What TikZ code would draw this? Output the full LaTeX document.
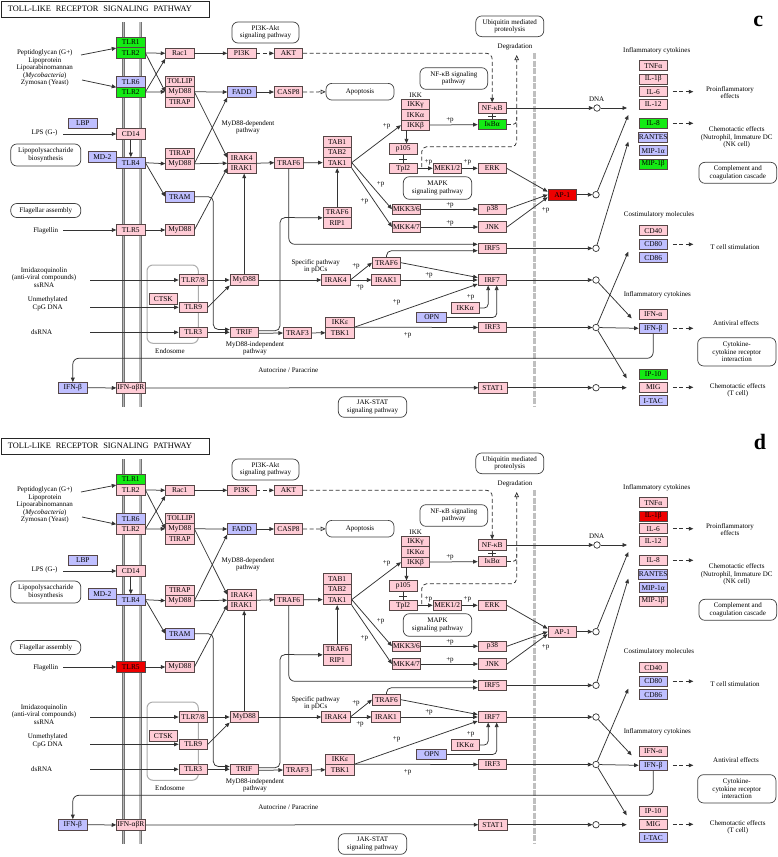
\documentclass[tikz,border=0pt]{standalone}
\usepackage{fontspec}
\usepackage{graphicx}
\setmainfont{Liberation Serif}
\usetikzlibrary{arrows.meta}
\definecolor{pinkc}{RGB}{255,204,214}
\definecolor{bluec}{RGB}{191,191,255}
\definecolor{greenc}{RGB}{20,235,20}
\definecolor{redc}{RGB}{238,0,0}
\definecolor{bordc}{RGB}{85,70,70}
\newcommand\kf{\fontsize{7}{7.5}\selectfont}
\newcommand\gbfont{\fontsize{7.4}{7.5}\selectfont}
\tikzset{
 gb/.style={draw=bordc, line width=0.7pt, minimum width=28.4pt, minimum height=10.4pt, inner sep=0pt, font=\gbfont, fill=pinkc},
 pk/.style={gb, fill=pinkc},
 bl/.style={gb, fill=bluec},
 gn/.style={gb, fill=greenc},
 ck/.style={minimum height=10pt},
 lbl/.style={font=\kf, align=center, inner sep=0pt},
 rbox/.style={draw=black!75, line width=0.7pt, rounded corners=6pt, font=\kf, align=center, inner sep=0pt},
 arr/.style={draw=black!80, line width=0.75pt, -{Triangle[length=4.5pt,width=3.8pt]}},
 dline/.style={draw=black!80, line width=0.75pt, dash pattern=on 4pt off 2.5pt},
 darr/.style={dline, -{Triangle[length=4.5pt,width=3.8pt]}},
 dopen/.style={dline, -{Triangle[open,length=5pt,width=4.5pt]}},
 plain/.style={draw=black!80, line width=0.75pt},
 circ/.style={circle, draw=black!80, line width=0.7pt, fill=white, minimum size=6.5pt, inner sep=0pt},
 memb/.style={draw=black!55, line width=0.6pt, double=gray!55, double distance=1.8pt},
 pletter/.style={font=\fontsize{22}{22}\selectfont\bfseries, inner sep=0pt, anchor=base},
}
\newcommand\tlrpanel{%
% background structures
\draw[memb] (123.5,22) -- (123.5,407);
\draw[memb] (140.3,22) -- (140.3,407);
\draw[gray!50, line width=3.5pt, dash pattern=on 6pt off 1.5pt] (534.3,53) -- (534.3,407);
\draw[gray!65, line width=1pt, rounded corners=6pt] (147,265) rectangle (198.3,343.3);
% title
\node[draw=black!85, line width=1pt, minimum width=208pt, minimum height=16pt, inner sep=0pt] (title) at (105,9)
  {\makebox[194pt][l]{\resizebox{184pt}{!}{TOLL-LIKE\hspace{0.35em} RECEPTOR\hspace{0.35em} SIGNALING\hspace{0.35em} PATHWAY}}};
% gene boxes
\node[gn] (tlr1) at (130.8,42.5) {TLR1};
\node[gb, fill=\cTLRa] (tlr2a) at (130.8,52.9) {TLR2};
\node[bl] (tlr6) at (130.8,81.7) {TLR6};
\node[gb, fill=\cTLRb] (tlr2b) at (130.8,92.1) {TLR2};
\node[pk] (rac1) at (179.8,53.3) {Rac1};
\node[pk] (pi3k) at (241.8,53.3) {PI3K};
\node[pk] (akt) at (288.5,53.3) {AKT};
\node[pk] (tollip) at (179.8,81.4) {TOLLIP};
\node[pk] (myd1) at (179.8,91.8) {MyD88};
\node[pk] (tirap1) at (179.8,102.2) {TIRAP};
\node[bl] (fadd) at (241.8,92) {FADD};
\node[pk] (casp8) at (288.5,92) {CASP8};
\node[bl] (lbp) at (82.8,123.3) {LBP};
\node[pk] (cd14) at (130.8,134) {CD14};
\node[bl] (md2) at (102.3,156.7) {MD-2};
\node[bl] (tlr4) at (130.8,162.7) {TLR4};
\node[pk] (tirap2) at (179.8,153.3) {TIRAP};
\node[pk] (myd2) at (179.8,163.7) {MyD88};
\node[pk] (irak4) at (241.8,157.7) {IRAK4};
\node[pk] (irak1) at (241.8,168.1) {IRAK1};
\node[bl] (tram) at (179.8,196.7) {TRAM};
\node[pk] (traf6a) at (288.8,162.7) {TRAF6};
\node[pk] (tab1) at (337.2,141.8) {TAB1};
\node[pk] (tab2) at (337.2,152.2) {TAB2};
\node[pk] (tak1) at (337.2,162.6) {TAK1};
\node[pk] (traf6b) at (337.2,212.3) {TRAF6};
\node[pk] (rip1) at (337.2,222.7) {RIP1};
\node[gb, fill=\cTLRf] (tlr5) at (130.8,230) {TLR5};
\node[pk] (myd3) at (179.8,230) {MyD88};
\node[pk] (ikkg) at (415.5,104.4) {IKKγ};
\node[pk] (ikka) at (415.5,114.8) {IKKα};
\node[pk] (ikkb) at (415.5,125.2) {IKKβ};
\node[pk] (nfkb) at (492.2,108) {NF-κB};
\node[gb, fill=\cIKB] (ikba) at (492.2,124.5) {IκBα};
\node[pk] (p105) at (403.2,149) {p105};
\node[pk] (tpl2) at (403.2,168.3) {Tpl2};
\node[pk] (mek) at (447.2,168.3) {MEK1/2};
\node[pk] (erk) at (492.2,168.3) {ERK};
\node[pk] (mkk36) at (406.5,209.2) {MKK3/6};
\node[pk] (mkk47) at (406.5,227) {MKK4/7};
\node[pk] (p38) at (492.5,209.2) {p38};
\node[pk] (jnk) at (492.5,227) {JNK};
\node[gb, fill=\cAP] (ap1) at (562.2,194.7) {AP-1};
\node[pk] (irf5) at (492.2,248.3) {IRF5};
\node[pk] (traf6c) at (386.5,262.7) {TRAF6};
\node[pk] (irak4b) at (335.8,280) {IRAK4};
\node[pk] (irak1b) at (386,280) {IRAK1};
\node[pk] (irf7) at (492.2,280) {IRF7};
\node[pk] (ikkab) at (465.2,308) {IKKα};
\node[bl, minimum width=30pt] (opn) at (431.7,317.5) {OPN};
\node[pk] (ikke) at (340,322.3) {IKKε};
\node[pk] (tbk1) at (340,332.7) {TBK1};
\node[pk] (traf3) at (297.5,333) {TRAF3};
\node[pk] (irf3) at (492.5,327.5) {IRF3};
\node[pk] (myd4) at (244.2,280) {MyD88};
\node[pk] (tlr78) at (193.2,280) {TLR7/8};
\node[pk] (ctsk) at (163.3,299) {CTSK};
\node[pk] (tlr9) at (193.2,307.3) {TLR9};
\node[pk] (tlr3) at (193.2,332.3) {TLR3};
\node[pk] (trif) at (244.2,332.3) {TRIF};
\node[bl] (ifnbl) at (72.8,387.7) {IFN-β};
\node[pk] (ifnr) at (130.8,388) {IFN-αβR};
\node[pk] (stat1) at (492.8,387.7) {STAT1};
% output gene groups
\node[pk, ck] (tnfa) at (653.2,65.8) {TNFα};
\node[gb, ck, fill=\cILb] (il1b) at (653.2,79) {IL-1β};
\node[pk, ck] (il6) at (653.2,91.7) {IL-6};
\node[pk, ck] (il12) at (653.2,104.3) {IL-12};
\node[gb, ck, fill=\cILe] (il8) at (653.2,123.3) {IL-8};
\node[bl, ck] (rantes) at (653.2,137) {RANTES};
\node[bl, ck] (mip1a) at (653.2,150.7) {MIP-1α};
\node[gb, ck, fill=\cMIP] (mip1b) at (653.2,164) {MIP-1β};
\node[pk, ck] (cd40) at (653.2,230.7) {CD40};
\node[bl, ck] (cd80) at (653.2,244.3) {CD80};
\node[bl, ck] (cd86) at (653.2,257.7) {CD86};
\node[pk, ck] (ifna) at (653.2,314) {IFN-α};
\node[bl, ck] (ifnb) at (653.2,328.3) {IFN-β};
\node[gb, ck, fill=\cIP] (ip10) at (653.2,374) {IP-10};
\node[pk, ck] (mig) at (653.2,387.3) {MIG};
\node[bl, ck] (itac) at (653.2,400.7) {I-TAC};
% rounded pathway boxes
\node[rbox, minimum width=67pt, minimum height=21pt] (piakt) at (265.5,32.5) {PI3K-Akt\\signaling pathway};
\node[rbox, minimum width=68pt, minimum height=16.7pt] (apop) at (360,91.7) {Apoptosis};
\node[rbox, minimum width=70pt, minimum height=22pt] (lpsbio) at (45.8,155) {Lipopolysaccharide\\biosynthesis};
\node[rbox, minimum width=70pt, minimum height=14pt] (flag) at (45.8,210.5) {Flagellar assembly};
\node[rbox, minimum width=68pt, minimum height=20.7pt] (ubiq) at (509.8,26.3) {Ubiquitin mediated\\proteolysis};
\node[rbox, minimum width=67.7pt, minimum height=21.6pt] (nfkbp) at (453.8,78.5) {NF-κB signaling\\pathway};
\node[rbox, minimum width=68.4pt, minimum height=22.6pt] (mapk) at (437.5,188) {MAPK\\signaling pathway};
\node[rbox, minimum width=68.4pt, minimum height=20.6pt] (jak) at (372.5,407) {JAK-STAT\\signaling pathway};
\node[rbox, minimum width=77.7pt, minimum height=21pt] (compl) at (737.8,172.8) {Complement and\\coagulation cascade};
\node[rbox, minimum width=78.3pt, minimum height=28.3pt] (cytrec) at (736.8,351.8) {Cytokine-\\cytokine receptor\\interaction};
% text labels
\node[lbl] (pep) at (44.8,68.3) {Peptidoglycan (G+)\\Lipoprotein\\Lipoarabinomannan\\(\textit{Mycobacteria})\\Zymosan (Yeast)};
\node[lbl] (lps) at (44.5,133.3) {LPS (G-)};
\node[lbl] (flg) at (45.8,230.7) {Flagellin};
\node[lbl] (imq) at (44,277.3) {Imidazoquinolin\\(anti-viral compounds)\\ssRNA};
\node[lbl] (cpg) at (47.7,303.8) {Unmethylated\\CpG DNA};
\node[lbl] (dsr) at (41.7,331.7) {dsRNA};
\node[lbl] (myddep) at (248,127.5) {MyD88-dependent\\pathway};
\node[lbl] (pdc) at (315.7,266.5) {Specific pathway\\in pDCs};
\node[lbl] (endo) at (170,350.7) {Endosome};
\node[lbl] (mydind) at (255,348.5) {MyD88-independent\\pathway};
\node[lbl] (autol) at (288.3,370) {Autocrine / Paracrine};
\node[lbl] (ikkl) at (415.7,95) {IKK};
\node[lbl] (dnal) at (596.7,99.3) {DNA};
\node[lbl] (degl) at (515,46.7) {Degradation};
\node[lbl] (infl1) at (656.7,50.7) {Inflammatory cytokines};
\node[lbl] (proinf) at (730,92.5) {Proinflammatory\\effects};
\node[lbl] (chem1) at (736.7,137.5) {Chemotactic effects\\(Nutrophil, Immature DC\\(NK cell)};
\node[lbl] (costim) at (659,215) {Costimulatory molecules};
\node[lbl] (tcell) at (735,246.7) {T cell stimulation};
\node[lbl] (infl2) at (657.3,294.3) {Inflammatory cytokines};
\node[lbl] (antiv) at (736,322.7) {Antiviral effects};
\node[lbl] (chem2) at (737.7,390.3) {Chemotactic effects\\(T cell)};
% +p labels
\node[lbl] (pp1) at (386.7,126) {+p};
\node[lbl] (pp2) at (450,120.7) {+p};
\node[lbl] (pp3) at (428.3,162.7) {+p};
\node[lbl] (pp4) at (467.3,162.3) {+p};
\node[lbl] (pp5) at (380.7,184) {+p};
\node[lbl] (pp6) at (364.3,201.7) {+p};
\node[lbl] (pp7) at (450,205) {+p};
\node[lbl] (pp8) at (450,223.3) {+p};
\node[lbl] (pp9) at (545.7,210) {+p};
\node[lbl] (pp10) at (356,266) {+p};
\node[lbl] (pp11) at (360,287.3) {+p};
\node[lbl] (pp12) at (429,275) {+p};
\node[lbl] (pp13) at (470.7,297.3) {+p};
\node[lbl] (pp14) at (396.7,302.3) {+p};
\node[lbl] (pp15) at (407.7,335) {+p};
% circles
\node[circ] (cdna) at (597,108) {};
\node[circ] (cap) at (596,194.7) {};
\node[circ] (cirf5) at (596,248.3) {};
\node[circ] (cirf7) at (596,280) {};
\node[circ] (cirf3) at (596,327.5) {};
\node[circ] (cstat) at (596,387.7) {};
% free ends
\coordinate (pepA) at (81,55);
\coordinate (pepB) at (82,80);
\coordinate (lpsA) at (63,134);
\coordinate (flgA) at (63,230);
\coordinate (imqA) at (90,280);
\coordinate (cpgA) at (90,307.3);
\coordinate (dsrA) at (90,332.3);
\coordinate (tramT) at (213.3,329.5);
\coordinate (trifU) at (280,217.5);
\coordinate (autoT) at (300,358.3);
\coordinate (dgA) at (421.7,167);
\coordinate (dgC) at (516.7,146.7);
\coordinate (dgB) at (516.7,55);
\coordinate (dgD) at (516.7,117);
\coordinate (ikbs) at (406.5,130.4);
\coordinate (gA) at (627,108);
\coordinate (gB) at (628.3,115);
\coordinate (gC) at (628.3,141.7);
\coordinate (gD) at (628.3,251.7);
\coordinate (gE) at (631.7,318.3);
\coordinate (gF) at (626.7,378.3);
\coordinate (gG) at (626.7,387.7);
\coordinate (eA) at (693.3,91.7);
\coordinate (eB) at (693.3,123.3);
\coordinate (eC) at (693.3,244.3);
\coordinate (eD) at (693.3,328.3);
\coordinate (eE) at (693.3,387.3);
% connectors: receptors
\draw[arr] (pepA) -- (tlr1.south west);
\draw[arr] (pepB) -- (tlr6.south west);
\draw[arr] (lpsA) -- (cd14.west);
\draw[arr] (flgA) -- (tlr5.west);
\draw[arr] (imqA) -- (tlr78.west);
\draw[arr] (cpgA) -- (tlr9.west);
\draw[arr] (dsrA) -- (tlr3.west);
\draw[arr] (tlr2a.east) -- (rac1.west);
\draw[arr] (tlr2a.east) -- (myd1.west);
\draw[arr] (tlr2b.east) -- (myd1.west);
\draw[arr] (tlr2b.east) -- (rac1.south west);
\draw[arr] (rac1) -- (pi3k);
\draw[darr] (pi3k) -- (akt);
\draw[darr, rounded corners=6pt] (akt.east) -| (nfkb.north);
\draw[arr] (myd1.east) -- (fadd.west);
\draw[arr] (myd1.east) -- (irak4.west);
\draw[arr] (myd2.east) -- (fadd.south west);
\draw[arr] (myd2.east) -- (irak4.south west);
\draw[arr] (tlr4.east) -- (myd2.west);
\draw[arr] (tlr4.east) -- (tram.west);
\draw[arr] (cd14) -- (tlr4);
\draw[arr] (tlr5) -- (myd3);
\draw[arr] (myd3.east) -- (irak1.west);
\draw[arr] (fadd) -- (casp8);
\draw[dopen] (casp8) -- (apop);
\draw[arr, rounded corners=5pt] (tram.east) -| (tramT) -- (tramT -| trif.west);
\draw[arr] (tlr3) -- (trif);
\draw[arr] (myd4.north) -- (myd4.north |- irak1.south);
\draw[arr] (tlr78) -- (myd4);
\draw[arr] (tlr9.east) -- (myd4.south west);
\draw[arr] (myd4) -- (irak4b);
\draw[arr] (irak4.south east) -- (traf6a.west);
\draw[arr] (traf6a) -- (tak1);
\draw[arr, rounded corners=6pt] (traf6a.south) |- ([yshift=4pt]irf5.west);
\draw[arr] (traf6b) -- (tak1);
\draw[arr, rounded corners=5pt] ([yshift=1.5pt]trif.east) -| (trifU) -- (traf6b.south west);
\draw[arr] ([yshift=-1pt]trif.east) -- (traf3.west);
\draw[arr] (traf3) -- (tbk1);
\draw[arr] (tbk1.north east) -- (irf3.west);
\draw[arr] (tbk1.north east) -- ([yshift=1.5pt]irf7.south west);
\draw[arr] (irak4b) -- (irak1b);
\draw[arr] (irak4b.east) -- (traf6c.west);
\draw[arr] (irak1b) -- (irf7);
\draw[arr] (traf6c.east) -- ([yshift=2.5pt]irf7.west);
\draw[arr, rounded corners=5pt] (traf6c.north) |- ([yshift=-2.4pt]irf5.west);
\draw[arr, rounded corners=4pt] (ikkab.east) -| ([xshift=-4pt]irf7.south);
\draw[arr, rounded corners=4pt] (opn.east) -| ([xshift=4.5pt]irf7.south);
\draw[arr] (ifnbl) -- (ifnr);
\draw[arr] (ifnr) -- (stat1);
\draw[arr, rounded corners=6pt] (ifnb.south) |- (autoT) -| (ifnbl.north);
% NF-kB / MAPK
\draw[arr] (tak1.east) -- (ikkb.west);
\draw[arr] (ikkb) -- (ikba);
\draw[arr] (ikbs) -- (ikbs |- p105.north);
\draw[plain] (nfkb) -- (ikba);
\draw[plain] ([xshift=-4pt,yshift=-3.3pt]nfkb.south) -- ([xshift=4pt,yshift=-3.3pt]nfkb.south);
\draw[plain] (p105) -- (tpl2);
\draw[plain] ([xshift=-4pt,yshift=-4.5pt]p105.south) -- ([xshift=4pt,yshift=-4.5pt]p105.south);
\draw[arr] (tpl2) -- (mek);
\draw[arr] (mek) -- (erk);
\draw[dopen, rounded corners=5pt] (dgA) |- (dgC) -- (dgB);
\draw[dline, rounded corners=4pt] (ikba.east) -| (dgD);
\draw[arr] (tak1.east) -- (mkk36.west);
\draw[arr] (tak1.south east) -- (mkk47.west);
\draw[arr] (mkk36) -- (p38);
\draw[arr] (mkk47) -- (jnk);
\draw[arr] (erk.east) -- ([yshift=3pt]ap1.west);
\draw[arr] (p38.east) -- (ap1.west);
\draw[arr] (jnk.east) -- ([yshift=-2.5pt]ap1.west);
% outputs
\draw[arr] (nfkb) -- (cdna);
\draw[arr] (cdna) -- (gA);
\draw[arr] (ap1) -- (cap);
\draw[arr] (cap) -- (gB);
\draw[arr] (irf5) -- (cirf5);
\draw[arr] (cirf5) -- (gC);
\draw[arr] (irf7) -- (cirf7);
\draw[arr] (cirf7) -- (gE);
\draw[arr] (irf3) -- (cirf3);
\draw[arr] (cirf3) -- (ifnb.west);
\draw[arr] (cirf3) -- (gD);
\draw[arr] (cirf3) -- (gF);
\draw[arr] (stat1) -- (cstat);
\draw[arr] (cstat) -- (gG);
\draw[darr] ([xshift=5pt]il6.east) -- (eA);
\draw[darr] ([xshift=5pt]il8.east) -- (eB);
\draw[darr] ([xshift=5pt]cd80.east) -- (eC);
\draw[darr] ([xshift=5pt]ifnb.east) -- (eD);
\draw[darr] ([xshift=5pt]mig.east) -- (eE);
}
\begin{document}
\begin{tikzpicture}[x=1pt,y=-1pt]
\useasboundingbox (0,0) rectangle (778,857);
\fill[white] (0,0) rectangle (778,857);
\begin{scope}[name prefix=c-]
 \def\cTLRa{greenc}\def\cTLRb{greenc}\def\cTLRf{pinkc}\def\cIKB{greenc}\def\cAP{redc}%
 \def\cILb{pinkc}\def\cILe{greenc}\def\cMIP{greenc}\def\cIP{greenc}%
 \tlrpanel
 \node[pletter] (letter) at (758.3,26.7) {c};
\end{scope}
\begin{scope}[name prefix=d-, shift={(0,437)}]
 \def\cTLRa{pinkc}\def\cTLRb{pinkc}\def\cTLRf{redc}\def\cIKB{pinkc}\def\cAP{pinkc}%
 \def\cILb{redc}\def\cILe{pinkc}\def\cMIP{pinkc}\def\cIP{pinkc}%
 \tlrpanel
 \node[pletter] (letter) at (760,12.2) {d};
\end{scope}
\end{tikzpicture}
\end{document}
